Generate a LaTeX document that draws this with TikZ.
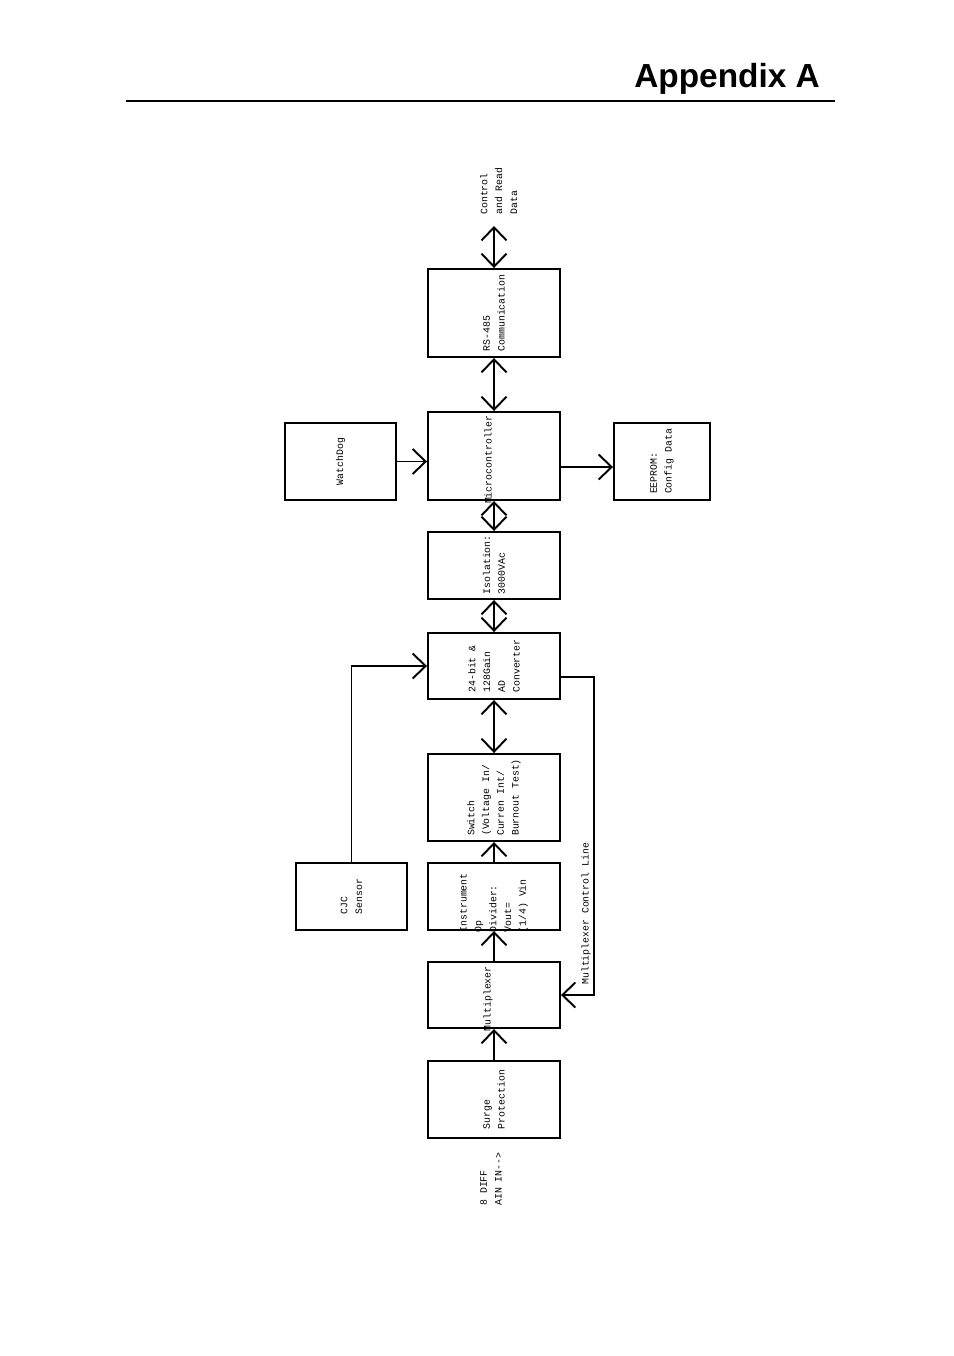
\documentclass[tikz,border=0pt]{standalone}
\usepackage{fontspec}
\setmainfont{Liberation Sans}
\setmonofont{Liberation Mono}
\usetikzlibrary{arrows.meta}
\tikzset{
  blk/.style={draw, line width=1.1pt, inner sep=0pt},
  lbl/.style={rotate=90, align=left, font=\ttfamily\fontsize{5.6}{8.4}\selectfont, inner sep=0pt},
  link/.style={line width=1.1pt},
  >={Straight Barb[length=0.26cm, width=0.5cm, line width=1.1pt]}
}
\begin{document}
\begin{tikzpicture}
  \useasboundingbox (0,0) rectangle (19.08,-27.12);
  % heading
  \node [anchor=base east, font=\bfseries\fontsize{19}{22}\selectfont] (title) at (16.52,-1.74) {Appendix A};
  \draw [line width=0.6pt] (2.52,-2.02) -- (16.7,-2.02);

  % blocks
  \node [blk, minimum width=2.64cm, minimum height=1.76cm] (rs) at (9.88,-6.26) {};
  \node [blk, minimum width=2.64cm, minimum height=1.76cm] (mc) at (9.88,-9.12) {};
  \node [blk, minimum width=2.22cm, minimum height=1.54cm] (wd) at (6.81,-9.23) {};
  \node [blk, minimum width=1.92cm, minimum height=1.54cm] (ee) at (13.24,-9.23) {};
  \node [blk, minimum width=2.64cm, minimum height=1.34cm] (iso) at (9.88,-11.31) {};
  \node [blk, minimum width=2.64cm, minimum height=1.32cm] (adc) at (9.88,-13.32) {};
  \node [blk, minimum width=2.64cm, minimum height=1.74cm] (sw) at (9.88,-15.95) {};
  \node [blk, minimum width=2.64cm, minimum height=1.34cm] (op) at (9.88,-17.93) {};
  \node [blk, minimum width=2.22cm, minimum height=1.34cm] (cjc) at (7.03,-17.93) {};
  \node [blk, minimum width=2.64cm, minimum height=1.32cm] (mux) at (9.88,-19.9) {};
  \node [blk, minimum width=2.64cm, minimum height=1.54cm] (sp) at (9.88,-21.99) {};

  % texts
  \node [lbl] at (rs.center) {RS-485\\Communication};
  \node [lbl, anchor=east] at (9.76,-8.3) {Microcontroller};
  \node [lbl] at (wd.center) {WatchDog};
  \node [lbl] at (ee.center) {EEPROM:\\Config Data};
  \node [lbl, anchor=east] at (9.88,-10.7) {Isolation:\\3000VAc};
  \node [lbl] at (adc.center) {24-bit \&\\128Gain\\AD\\Converter};
  \node [lbl] at (sw.center) {Switch\\(Voltage In/\\Curren Int/\\Burnout Test)};
  \node [lbl, anchor=east] at (9.88,-17.46) {Instrument\\Op\\Divider:\\Vout=\\(1/4) Vin};
  \node [lbl] at (cjc.center) {CJC\\Sensor};
  \node [lbl, anchor=east] at (9.76,-19.32) {Multiplexer};
  \node [lbl] at (sp.center) {Surge\\Protection};
  \node [lbl, anchor=north west] (host) at (9.6,-4.3) {Control\\and Read\\Data};
  \node [lbl, anchor=north west] (ain) at (9.6,-24.12) {8 DIFF\\AIN IN-->};

  % connectors
  \coordinate (bus) at (9.88,-4.52);
  \draw [link, <->] (bus) -- (rs.north);
  \draw [link, <->] (rs.south) -- (mc.north);
  \draw [link, ->] (wd.east) -- (wd.east -| mc.west);
  \draw [line width=0.8pt, ->] (mc.east |- 0,-9.34) -- (ee.west |- 0,-9.34);
  \draw [link, <->] (mc.south) -- (iso.north);
  \draw [link, <->] (iso.south) -- (adc.north);
  \draw [link, <->] (adc.south) -- (sw.north);
  \draw [link, ->] (op.north) -- (sw.south);
  \draw [link, ->] (mux.north) -- (op.south);
  \draw [link, ->] (sp.north) -- (mux.south);
  \draw [link, ->] (cjc.north) |- (adc.west);
  \coordinate (ctl) at (11.88,-13.54);
  \draw [line width=0.8pt, ->] (adc.east |- ctl) -- (ctl) |- (mux.east);
  \node [lbl, anchor=south west] (ctllbl) at (11.82,-19.7) {Multiplexer Control Line};
\end{tikzpicture}
\end{document}
